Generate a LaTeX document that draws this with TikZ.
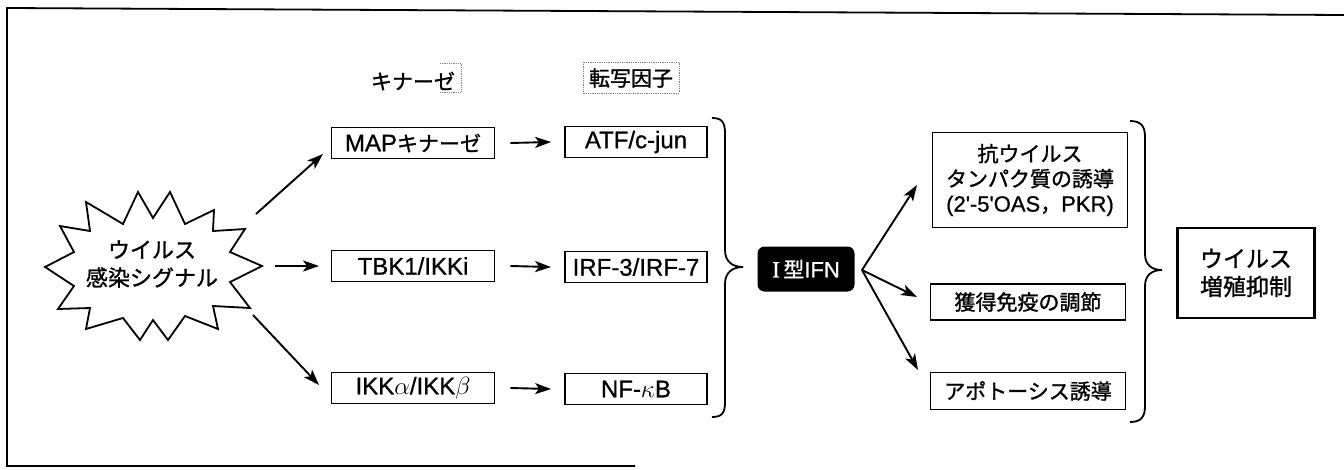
\documentclass[tikz,border=0pt]{standalone}
\usepackage{fontspec}
\setmainfont{Noto Sans CJK JP}[FakeBold=1.2]
\newfontfamily\lat{Liberation Sans}[FakeBold=0.8]
\newfontfamily\ser{Liberation Serif}[FakeBold=0.8]
\usetikzlibrary{arrows.meta}
\newcommand\jt{\fontsize{21}{25}\selectfont}
\newcommand\ltx{\lat\fontsize{24}{26}\selectfont}
\begin{document}
\begin{tikzpicture}[x=1pt,y=-1pt,
  every node/.style={font=\jt},
  box/.style={draw, line width=1.8pt, minimum width=163pt, minimum height=31pt, inner sep=0pt},
  rbox/.style={box, minimum width=142pt},
  obox/.style={draw, line width=1.8pt, minimum width=195pt, inner sep=0pt, align=center},
  arr/.style={-{Stealth[length=16pt,width=11pt,inset=4pt]}, line width=1.9pt},
  brace/.style={line width=1.8pt}]
\useasboundingbox (0,0) rectangle (1344,469);
% frame
\draw[line width=1.8pt] (635,466) -- (7,466) -- (7,8) -- (1344,15);
% starburst
\draw[line width=1.8pt, fill=white] (45,267) -- (74,252) -- (60,226) -- (90,231) -- (86,202) -- (123,224)
  -- (138,192) -- (153,218) -- (170,192) -- (185,224) -- (214,210) -- (213,231) -- (245,229)
  -- (230,252) -- (262,266) -- (230,282) -- (250,308) -- (213,306) -- (218,329) -- (185,316)
  -- (168,340) -- (153,320) -- (140,340) -- (123,318) -- (86,329) -- (90,308) -- (58,309)
  -- (74,286) -- cycle;
\node[align=center, font=\fontsize{22}{28}\selectfont] (sig) at (152,264) {ウイルス\\感染シグナル};
\coordinate (s1) at (256,214);
\coordinate (s2) at (275,266);
\coordinate (s3) at (253,315);
\coordinate (e1) at (323,154);
\coordinate (e3) at (319,385);
% headers
\node (hk) at (413,81) {キナーゼ};
\node (ht) at (631,78) {転写因子};
\draw[densely dotted, gray, line width=0.8pt] (583,62) rectangle (679,93);
\draw[densely dotted, gray, line width=0.8pt] (440,63) -- (461,63) -- (461,92) -- (440,92);
% boxes
\node[box] (map) at (413,143) {{\ltx MAP}キナーゼ};
\node[box] (tbk) at (413,266) {\ltx TBK1/IKKi};
\node[box] (ikk) at (413,388) {\ltx IKK$\alpha$/IKK$\beta$};
\node[rbox] (atf) at (636,142) {\ltx ATF/c-jun};
\node[rbox] (irf) at (636,267) {\ltx IRF-3/IRF-7};
\node[rbox] (nfk) at (636,389) {\ltx NF-$\kappa$B};
\draw[arr] (s1) -- (e1);
\draw[arr] (s2) -- (tbk.west -| 319,0);
\draw[arr] (s3) -- (e3);
\draw[arr] ([xshift=15pt]map.east) -- ([xshift=-13pt]atf.west);
\draw[arr] ([xshift=15pt]tbk.east) -- ([xshift=-13pt]irf.west);
\draw[arr] ([xshift=15pt]ikk.east) -- ([xshift=-13pt]nfk.west);
% brace 1
\draw[brace] (712,118) .. controls (722,118) and (725,122) .. (725,134) -- (725,250)
  .. controls (725,262) and (733,267) .. (743,267) .. controls (733,267) and (725,272) .. (725,284)
  -- (725,402) .. controls (725,413) and (722,417) .. (712,417);
% IFN
\node[fill=black, rounded corners=7pt, minimum width=97pt, minimum height=45pt, text=white,
  font=\fontsize{21}{24}\selectfont] (ifn) at (806,269) {{\ser\fontsize{23}{24}\selectfont I}\,型{\lat\fontsize{22}{24}\selectfont IFN}};
\coordinate (f0) at (862,270);
% right boxes
\node[obox, minimum height=95pt, font=\fontsize{21}{25}\selectfont] (aav) at (1030,180)
  {抗ウイルス\\タンパク質の誘導\\{\lat\fontsize{22}{25}\selectfont(2'-5'OAS}，{\lat\fontsize{22}{25}\selectfont PKR)}};
\node[obox, minimum height=36pt] (acq) at (1028,302) {獲得免疫の調節};
\node[obox, minimum height=37pt] (apo) at (1028,391) {アポトーシス誘導};
\coordinate (g1) at (917,185);
\coordinate (g2) at (917,297);
\coordinate (g3) at (918,370);
\draw[arr] (f0) -- (g1);
\draw[arr] (f0) -- (g2);
\draw[arr] (f0) -- (g3);
% brace 2
\draw[brace] (1130,121) .. controls (1141,121) and (1145,126) .. (1145,137) -- (1145,254)
  .. controls (1145,265) and (1152,270) .. (1162,270) .. controls (1152,270) and (1145,275) .. (1145,286)
  -- (1145,406) .. controls (1145,417) and (1141,422) .. (1130,422);
% result
\node[draw, line width=2.6pt, minimum width=137pt, minimum height=90pt, align=center,
  font=\fontsize{23}{28}\selectfont] (sup) at (1246,273) {ウイルス\\増殖抑制};
\end{tikzpicture}
\end{document}
